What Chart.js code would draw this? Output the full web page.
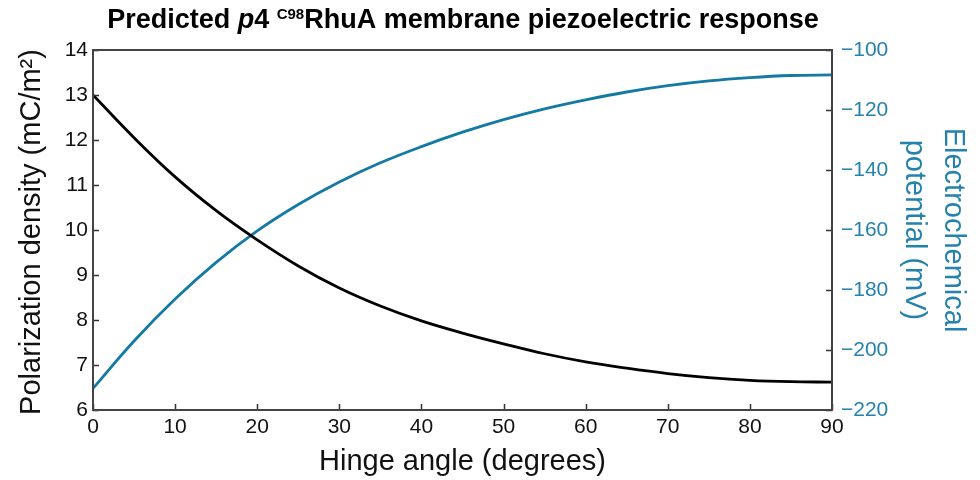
<!DOCTYPE html>
<html>
<head>
<meta charset="utf-8">
<script src="https://cdn.jsdelivr.net/npm/chart.js@4.4.1/dist/chart.umd.min.js"></script>
<style>
  html, body { margin: 0; padding: 0; background: #fff; }
  #wrap { width: 980px; height: 480px; }
</style>
</head>
<body>
<div id="wrap"><canvas id="chart" width="980" height="480"></canvas></div>
<script>
// Values
const angles = [0, 5, 10, 15, 20, 25, 30, 35, 40, 45, 50, 55, 60, 65, 70, 75, 80, 85, 90];
const polarization = [13.0, 12.05, 11.18, 10.43, 9.78, 9.2, 8.71, 8.31, 7.98, 7.71, 7.47, 7.25, 7.07, 6.93, 6.81, 6.72, 6.66, 6.63, 6.62];
const potential = [-212.8, -197, -183, -170.8, -160.3, -151.5, -144, -137.6, -132.2, -127.4, -123.2, -119.6, -116.6, -114, -111.9, -110.3, -109.2, -108.5, -108.3];

const FONT = '"Liberation Sans", Arial, Helvetica, sans-serif';
const BLUE = '#1479a3';
const BLUE_TXT = '#2482ad';
const AXIS = '#333333';

const toPoints = ys => angles.map((a, i) => ({ x: a, y: ys[i] }));

// draws box, inward ticks, title and axis titles
const decorations = {
  id: 'decorations',
  afterDatasetsDraw(chart) {
    const { ctx, chartArea: ca, scales } = chart;
    ctx.save();

    // inward tick marks
    ctx.strokeStyle = AXIS;
    ctx.lineWidth = 1.5;
    const tl = 6;
    ctx.beginPath();
    scales.x.ticks.forEach(t => {
      const px = Math.round(scales.x.getPixelForValue(t.value)) + 0.5;
      ctx.moveTo(px, ca.bottom);
      ctx.lineTo(px, ca.bottom - tl);
    });
    scales.y.ticks.forEach(t => {
      const py = Math.round(scales.y.getPixelForValue(t.value)) + 0.5;
      ctx.moveTo(ca.left, py);
      ctx.lineTo(ca.left + tl, py);
    });
    scales.y2.ticks.forEach(t => {
      const py = Math.round(scales.y2.getPixelForValue(t.value)) + 0.5;
      ctx.moveTo(ca.right, py);
      ctx.lineTo(ca.right - tl, py);
    });
    ctx.stroke();

    // box
    ctx.lineWidth = 2;
    ctx.strokeStyle = '#444';
    ctx.strokeRect(ca.left, ca.top, ca.right - ca.left, ca.bottom - ca.top);

    // title with italic p and superscript C98
    const big = 'bold 27px ' + FONT;
    const bigIt = 'italic bold 27px ' + FONT;
    const small = 'bold 15px ' + FONT;
    const parts = [
      { t: 'Predicted ', f: big, dy: 0 },
      { t: 'p', f: bigIt, dy: 0 },
      { t: '4 ', f: big, dy: 0 },
      { t: 'C98', f: small, dy: -9 },
      { t: 'RhuA membrane piezoelectric response', f: big, dy: 0 }
    ];
    let total = 0;
    parts.forEach(p => { ctx.font = p.f; p.w = ctx.measureText(p.t).width; total += p.w; });
    let x = 463 - total / 2;
    ctx.fillStyle = '#000';
    ctx.textBaseline = 'alphabetic';
    ctx.textAlign = 'left';
    parts.forEach(p => {
      ctx.font = p.f;
      ctx.fillText(p.t, x, 28 + p.dy);
      x += p.w;
    });

    // bottom axis title
    ctx.font = '29px ' + FONT;
    ctx.textAlign = 'center';
    ctx.textBaseline = 'middle';
    ctx.fillStyle = '#111';
    ctx.fillText('Hinge angle (degrees)', (ca.left + ca.right) / 2, 462);

    // left axis title
    ctx.save();
    ctx.translate(32, (ca.top + ca.bottom) / 2 + 2);
    ctx.rotate(-Math.PI / 2);
    ctx.fillText('Polarization density (mC/m\u00b2)', 0, 0);
    ctx.restore();

    // right axis title, two lines, reading top to bottom
    ctx.fillStyle = BLUE_TXT;
    ctx.save();
    ctx.translate(953, (ca.top + ca.bottom) / 2);
    ctx.rotate(Math.PI / 2);
    ctx.fillText('Electrochemical', 0, 0);
    ctx.restore();
    ctx.save();
    ctx.translate(914, (ca.top + ca.bottom) / 2);
    ctx.rotate(Math.PI / 2);
    ctx.fillText('potential (mV)', 0, 0);
    ctx.restore();

    ctx.restore();
  }
};

new Chart(document.getElementById('chart'), {
  type: 'line',
  data: {
    datasets: [
      {
        label: 'Polarization density',
        data: toPoints(polarization),
        yAxisID: 'y',
        borderColor: '#000',
        borderWidth: 2.8,
        pointRadius: 0,
        tension: 0.4,
        fill: false
      },
      {
        label: 'Electrochemical potential',
        data: toPoints(potential),
        yAxisID: 'y2',
        borderColor: BLUE,
        borderWidth: 2.8,
        pointRadius: 0,
        tension: 0.4,
        fill: false
      }
    ]
  },
  options: {
    responsive: false,
    animation: false,
    layout: { padding: { top: 50, left: 0, right: 0, bottom: 0 } },
    plugins: {
      legend: { display: false },
      tooltip: { enabled: false }
    },
    scales: {
      x: {
        type: 'linear',
        min: 0,
        max: 90,
        grid: { display: false, drawTicks: false },
        border: { display: false },
        ticks: { stepSize: 10, padding: 5, color: '#111', font: { family: FONT, size: 21 }, maxRotation: 0 },
        afterFit: s => { s.height = 70; }
      },
      y: {
        position: 'left',
        min: 6,
        max: 14,
        grid: { display: false, drawTicks: false },
        border: { display: false },
        ticks: { stepSize: 1, padding: 5, color: '#111', font: { family: FONT, size: 21 } },
        afterFit: s => { s.width = 93; }
      },
      y2: {
        position: 'right',
        min: -220,
        max: -100,
        grid: { display: false, drawTicks: false },
        border: { display: false },
        ticks: {
          stepSize: 20,
          padding: 9,
          color: BLUE_TXT,
          font: { family: FONT, size: 21 },
          callback: v => (v < 0 ? '\u2212' + Math.abs(v) : String(v))
        },
        afterFit: s => { s.width = 148; }
      }
    }
  },
  plugins: [decorations]
});
</script>
</body>
</html>
